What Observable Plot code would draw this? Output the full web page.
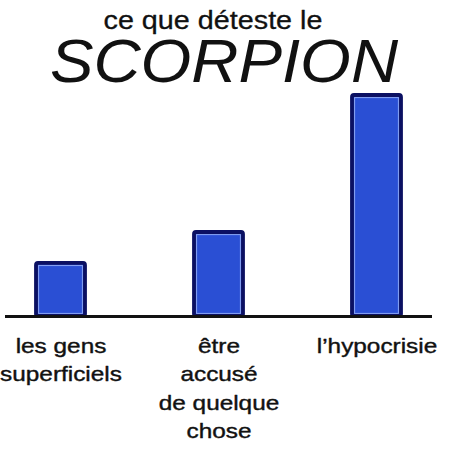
<!DOCTYPE html>
<html><head><meta charset="utf-8">
<script src="https://cdn.jsdelivr.net/npm/d3@7"></script>
<script src="https://cdn.jsdelivr.net/npm/@observablehq/plot@0.6"></script>
<style>body{margin:0;background:#fff}</style>
</head><body><div id="chart"></div>
<script>
const categories = ["les gens\nsuperficiels", "être\naccusé\nde quelque\nchose", "l’hypocrisie"];
const values = [2.4, 3.8, 10];
const titleSmall = "ce que déteste le";
const titleBig = "SCORPION";
const data = categories.map((c, i) => ({category: c, value: values[i]}));

const plot = Plot.plot({
  width: 450, height: 450,
  marginTop: 95, marginBottom: 134, marginLeft: 5, marginRight: 18,
  style: {fontFamily: "'Liberation Sans', Arial, sans-serif", background: "#fff", color: "#111"},
  x: {domain: categories, paddingInner: 0.69, paddingOuter: 0.196, axis: null},
  y: {domain: [0, 10], axis: null},
  marks: [
    Plot.barY(data, {x: "category", y: "value", fill: "#2a4fd4", stroke: "#0b1062", strokeWidth: 3.8, rx: 2}),
    Plot.barY(data, {x: "category", y: "value", fill: "none", stroke: "#8aa5f2", strokeWidth: 1, inset: 2.6}),
    Plot.ruleY([0], {stroke: "#111", strokeWidth: 3}),
    Plot.text(data, {x: "category", y: 0, text: "category", lineAnchor: "top", dy: 16, fontSize: 21, lineHeight: 1.357, fill: "#111", stroke: "#111", strokeWidth: 0.4}),
    Plot.text([titleSmall], {frameAnchor: "top", text: d => d, dx: -6, dy: -84, lineAnchor: "top", fontSize: 25, fill: "#111", stroke: "#111", strokeWidth: 0.3}),
    Plot.text([titleBig], {frameAnchor: "top", text: d => d, dx: 5, dy: -57, lineAnchor: "top", fontSize: 61, fontStyle: "italic", fill: "#111"})
  ]
});

document.getElementById("chart").append(plot);

// stretch texts horizontally around their own centre to match the reference's wide lettering
d3.select(plot).selectAll("text").each(function() {
  const t = this.textContent;
  let s = 1.16;
  if (t === titleSmall) s = 1.15;
  else if (t === titleBig) s = 1.07;
  const r = this.getBoundingClientRect();
  const m = this.parentNode.getScreenCTM();
  const cx = (r.x + r.width / 2 - m.e) / m.a;
  const tr = this.getAttribute("transform") || "";
  this.setAttribute("transform", `translate(${cx},0) scale(${s},1) translate(${-cx},0) ${tr}`);
});
</script>
</body></html>
